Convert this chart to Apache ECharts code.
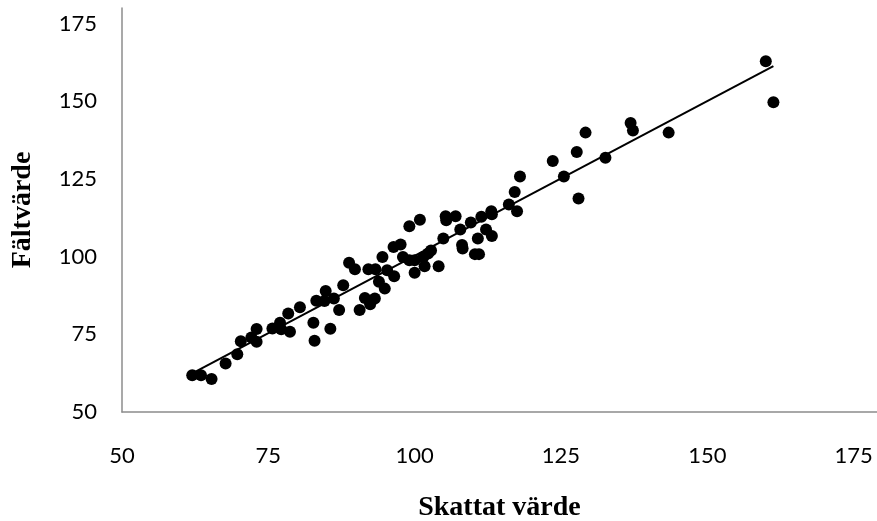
<!DOCTYPE html>
<html>
<head>
<meta charset="utf-8">
<script src="https://cdn.jsdelivr.net/npm/echarts@6/dist/echarts.min.js"></script>
<style>html,body{margin:0;padding:0;background:#fff}#c{width:877px;height:521px}</style>
</head>
<body>
<div id="c"></div>
<script>
const xTitle = 'Skattat värde';
const yTitle = 'Fältvärde';
const skattat = [62.0,63.5,65.3,67.7,69.7,70.3,72.1,73.0,73.0,75.7,77.0,77.2,78.7,78.4,80.4,82.7,82.9,83.2,84.8,84.6,86.2,85.6,87.1,87.8,88.8,89.8,90.6,91.5,92.4,93.2,92.1,93.3,93.9,94.9,94.5,95.3,96.5,96.4,97.6,98.0,99.1,100.0,100.0,101.7,101.5,102.3,102.8,104.1,104.9,99.1,100.9,105.3,105.4,107.0,107.8,108.1,108.2,109.6,110.3,111.0,110.8,111.4,112.2,113.2,113.1,113.2,116.1,117.1,117.5,118.0,123.6,125.5,128.0,127.7,129.2,132.6,136.9,137.3,143.4,160.0,161.3];
const faltvarde = [61.8,61.8,60.6,65.6,68.6,72.8,74.0,76.7,72.6,76.9,78.7,76.6,75.8,81.7,83.7,78.7,72.9,85.8,88.9,85.7,86.5,76.8,82.8,90.8,98.0,95.9,82.8,86.7,84.7,86.5,95.9,95.9,91.9,89.7,99.9,95.6,93.7,103.1,103.9,99.9,98.8,98.8,94.8,96.9,99.9,101.0,102.0,96.9,105.8,109.8,111.9,113.0,111.7,113.0,108.7,103.7,102.6,111.0,100.8,100.8,105.8,112.8,108.7,106.6,114.6,113.6,116.8,120.8,114.6,125.8,130.8,125.8,118.7,133.7,139.9,131.8,143.0,140.6,139.9,162.9,149.7];
const trendX = [62.0, 161.3];
const trendY = [62.4, 161.3];

const points = skattat.map((x, i) => [x, faltvarde[i]]);
const trend = trendX.map((x, i) => [x, trendY[i]]);

const chart = echarts.init(document.getElementById('c'));
const axisLine = {show: true, lineStyle: {color: '#8c8c8c', width: 1.5}};
chart.setOption({
  animation: false,
  grid: {left: 122, top: 8, right: 0, bottom: 109, containLabel: false, outerBoundsMode: 'none'},
  xAxis: {
    type: 'value', min: 50, max: 179, interval: 25,
    axisLine: axisLine, axisTick: {show: false}, splitLine: {show: false},
    axisLabel: {showMaxLabel: false, fontFamily: 'Lato', fontSize: 22, color: '#000', margin: 33},
    name: xTitle, nameLocation: 'middle', nameGap: 82,
    nameTextStyle: {fontFamily: 'Liberation Serif', fontWeight: 'bold', fontSize: 28, color: '#000'}
  },
  yAxis: {
    type: 'value', min: 50, max: 180, interval: 25,
    axisLine: axisLine, axisTick: {show: false}, splitLine: {show: false},
    axisLabel: {showMaxLabel: false, fontFamily: 'Lato', fontSize: 22, color: '#000', margin: 25},
    name: yTitle, nameLocation: 'middle', nameGap: 85,
    nameTextStyle: {fontFamily: 'Liberation Serif', fontWeight: 'bold', fontSize: 28, color: '#000'}
  },
  series: [
    {type: 'scatter', data: points, symbolSize: 12, itemStyle: {color: '#000', opacity: 1}, z: 2},
    {type: 'line', data: trend, symbol: 'none', lineStyle: {color: '#000', width: 2}, z: 3}
  ]
});
</script>
</body>
</html>
